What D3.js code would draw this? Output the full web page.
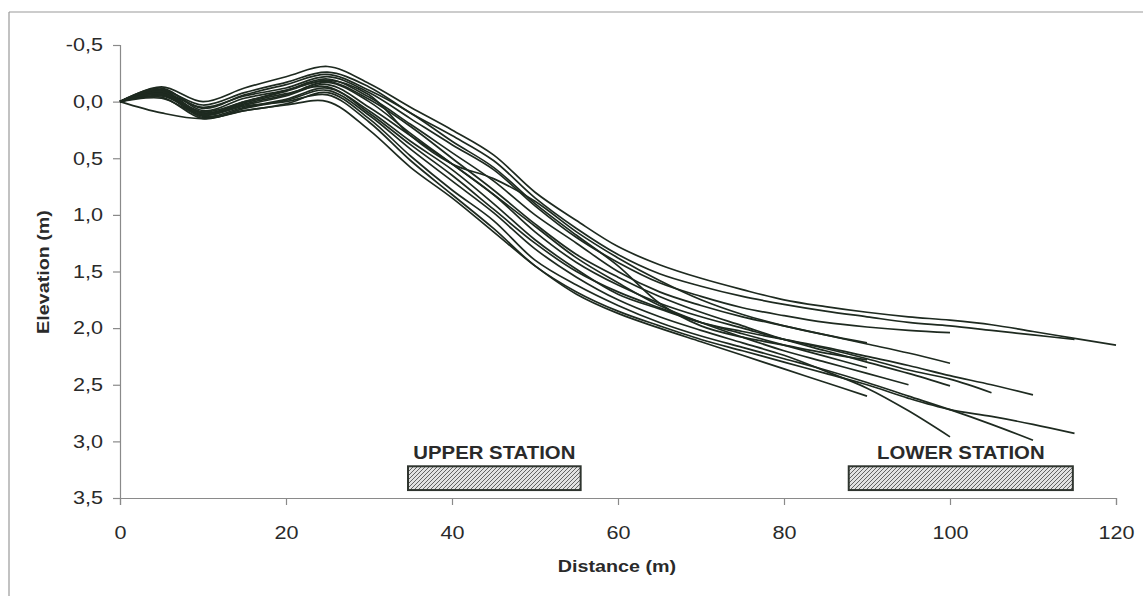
<!DOCTYPE html>
<html><head><meta charset="utf-8">
<script src="https://cdn.jsdelivr.net/npm/d3@7"></script>
<style>
html,body{margin:0;padding:0;background:#fff;}
svg{display:block;}
text{font-family:"Liberation Sans",Arial,sans-serif;fill:#2a2a2a;}
</style></head>
<body>
<svg id="chart" width="1143" height="596"></svg>
<script>
// ---- data ----
const distance = [0,5,10,15,20,25,30,35,40,45,50,55,60,65,70,75,80,85,90,95,100,105,110,115,120];
const xTicks = [0,20,40,60,80,100,120];
const yTicks = [-0.5,0,0.5,1,1.5,2,2.5,3,3.5];

const p01 = [0,-0.13,0.0,-0.12,-0.22,-0.31,-0.16,0.05,0.25,0.47,0.8,1.05,1.28,1.44,1.56,1.66,1.75,1.81,1.86,1.9,1.93,1.97,2.03,2.09,2.15];
const p02 = [0,-0.1,0.03,-0.08,-0.17,-0.26,-0.13,0.1,0.3,0.52,0.85,1.12,1.35,1.52,1.63,1.72,1.79,1.85,1.9,1.95,1.98,2.02,2.06,2.10];
const p03 = [0,-0.08,0.05,-0.05,-0.12,-0.22,-0.08,0.15,0.38,0.6,0.92,1.2,1.42,1.6,1.72,1.82,1.89,1.95,1.99,2.02,2.04];
const p04 = [0,-0.1,0.1,0.0,-0.1,-0.2,-0.04,0.2,0.45,0.7,1.0,1.25,1.5,1.68,1.8,1.9,1.98,2.06,2.14,2.22,2.31];
const p05 = [0,-0.06,0.12,0.02,-0.06,-0.17,0.0,0.28,0.55,0.82,1.1,1.38,1.6,1.8,1.95,2.08,2.2,2.3,2.4,2.5];
const p06 = [0,-0.12,0.08,-0.03,-0.1,-0.18,-0.02,0.22,0.5,0.78,1.08,1.35,1.55,1.72,1.86,1.98,2.1,2.2,2.3,2.4,2.51];
const p07 = [0,-0.05,0.1,0.03,-0.05,-0.15,0.05,0.3,0.55,0.82,1.15,1.42,1.62,1.78,1.9,2.0,2.1,2.18,2.27,2.37,2.45,2.57];
const p08 = [0,-0.08,0.13,0.05,-0.02,-0.12,0.08,0.35,0.6,0.9,1.22,1.48,1.7,1.83,1.95,2.03,2.1,2.17,2.25,2.33,2.42,2.5,2.59];
const p09 = [0,-0.04,0.15,0.06,-0.01,-0.1,0.12,0.42,0.7,0.98,1.3,1.55,1.75,1.9,2.02,2.13,2.24,2.38,2.53,2.73,2.96];
const p10 = [0,-0.07,0.14,0.08,0.02,-0.08,0.15,0.48,0.78,1.05,1.4,1.62,1.8,1.95,2.07,2.17,2.27,2.37,2.48,2.6,2.72,2.85,2.99];
const p11 = [0,-0.03,0.12,0.04,0.0,-0.06,0.18,0.52,0.82,1.12,1.45,1.68,1.85,1.98,2.1,2.2,2.3,2.4,2.5,2.62,2.72,2.78,2.85,2.93];
const p12 = [0,0.1,0.15,0.08,0.03,0.0,0.25,0.58,0.85,1.15,1.45,1.7,1.87,2.0,2.12,2.24,2.36,2.48,2.6];
const p13 = [0,-0.09,0.11,0.01,-0.07,-0.13,0.1,0.38,0.65,0.95,1.25,1.5,1.68,1.82,1.95,2.05,2.15,2.25,2.35];
const p14 = [0,-0.11,0.06,-0.06,-0.15,-0.24,-0.1,0.1,0.35,0.58,0.9,1.18,1.45,1.78,1.98,2.08,2.15,2.22,2.28];
const p15 = [0,-0.07,0.09,0.0,-0.09,-0.19,-0.06,0.3,0.55,0.68,0.88,1.15,1.38,1.58,1.75,1.88,1.98,2.06,2.13];
const profiles = [p01,p02,p03,p04,p05,p06,p07,p08,p09,p10,p11,p12,p13,p14,p15];

const stationNames = ["UPPER STATION","LOWER STATION"];
const stationStart = [34.7,87.8];
const stationEnd = [55.5,114.8];
const stationTop = 3.22, stationBottom = 3.43;

// ---- drawing ----
const svg = d3.select("#chart");
const x = d3.scaleLinear().domain([0,120]).range([120,1116]);
const y = d3.scaleLinear().domain([-0.5,3.5]).range([45,498]);
const SX = 1.2;

// frame (scan border)
svg.append("line").attr("x1",9).attr("x2",1143).attr("y1",12).attr("y2",12).attr("stroke","#999").attr("stroke-width",1.2);
svg.append("line").attr("x1",9).attr("x2",9).attr("y1",12).attr("y2",596).attr("stroke","#999").attr("stroke-width",1.2);

// hatch pattern
const defs = svg.append("defs");
const pat = defs.append("pattern").attr("id","hatch").attr("patternUnits","userSpaceOnUse")
  .attr("width",4).attr("height",4);
pat.append("rect").attr("width",4).attr("height",4).attr("fill","#e2e2e2");
pat.append("path").attr("d","M-1,1 l2,-2 M0,4 l4,-4 M3,5 l2,-2").attr("stroke","#555").attr("stroke-width",0.9);

// axes
const yAxis = d3.axisLeft(y).tickValues(yTicks).tickSize(7).tickPadding(10)
  .tickFormat(d => d.toFixed(1).replace(".",","));
const gy = svg.append("g").attr("transform",`translate(${x(0)},0)`).call(yAxis);
const xAxis = d3.axisBottom(x).tickValues(xTicks).tickSize(7).tickPadding(21)
  .tickFormat(d => String(d));
const gx = svg.append("g").attr("transform",`translate(0,${y(3.5)})`).call(xAxis);
[gx,gy].forEach(g=>{
  g.select(".domain").attr("stroke","#8a8a8a").attr("stroke-width",1.2);
  g.selectAll(".tick line").attr("stroke","#8a8a8a").attr("stroke-width",1.2);
  g.selectAll(".tick text").attr("font-size",18).attr("fill","#2a2a2a")
   .style("font-family","'Liberation Sans',Arial,sans-serif");
});
gy.selectAll(".tick text").attr("x",null).attr("transform",`translate(-17,0) scale(${SX},1)`);
gx.selectAll(".tick text").attr("transform",`scale(${SX},1)`);

// axis titles
svg.append("text").attr("transform",`translate(617,572) scale(1.16,1)`).attr("text-anchor","middle")
  .attr("font-size",17).attr("font-weight","bold").text("Distance (m)");
svg.append("text").attr("transform",`translate(49,272) rotate(-90) scale(1.16,1)`).attr("text-anchor","middle")
  .attr("font-size",17).attr("font-weight","bold").text("Elevation (m)");

// profiles
const line = d3.line().x((d,i)=>x(distance[i])).y(d=>y(d)).curve(d3.curveCatmullRom.alpha(0.5));
svg.append("g").selectAll("path").data(profiles).join("path")
  .attr("d",d=>line(d)).attr("fill","none").attr("stroke","#1e2a20")
  .attr("stroke-width",1.7).attr("stroke-linejoin","round");

// stations
const st = svg.append("g").selectAll("g").data(stationNames).join("g");
st.append("rect")
  .attr("x",(d,i)=>x(stationStart[i])).attr("width",(d,i)=>x(stationEnd[i])-x(stationStart[i]))
  .attr("y",y(stationTop)).attr("height",y(stationBottom)-y(stationTop))
  .attr("fill","url(#hatch)").attr("stroke","#2f352f").attr("stroke-width",2);
st.append("text")
  .attr("transform",(d,i)=>`translate(${(x(stationStart[i])+x(stationEnd[i]))/2},${y(stationTop)-7}) scale(1.1,1)`)
  .attr("text-anchor","middle").attr("font-size",18.5).attr("font-weight","bold").attr("fill","#333")
  .text(d=>d);
</script>
</body></html>
